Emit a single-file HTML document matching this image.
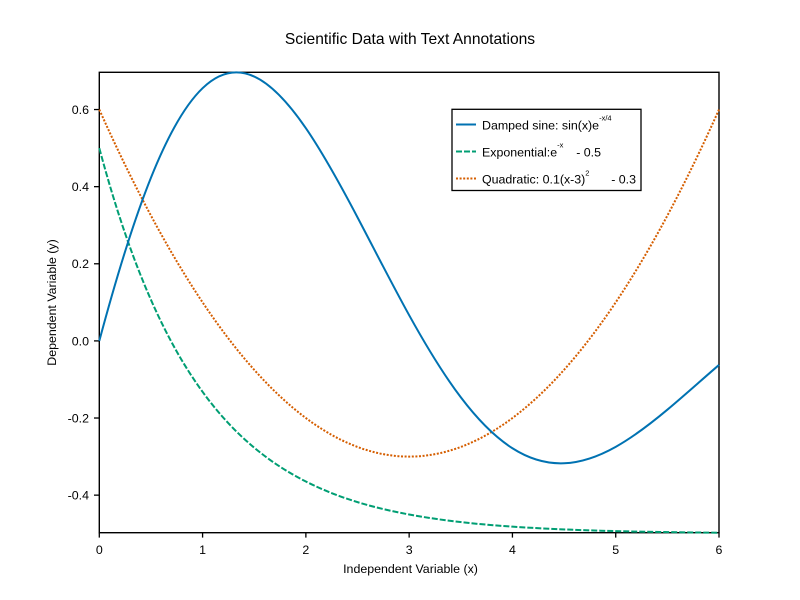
<!DOCTYPE html>
<html>
<head>
<meta charset="utf-8">
<style>
  html, body { margin: 0; padding: 0; background: #ffffff; }
  svg { display: block; }
  text { font-family: "Liberation Sans", Arial, sans-serif; fill: #000; white-space: pre; }
</style>
</head>
<body>
<svg width="800" height="600" viewBox="0 0 800 600" xmlns="http://www.w3.org/2000/svg">
  <rect x="0" y="0" width="800" height="600" fill="#ffffff"/>

  <!-- Title -->
  <text x="410" y="44" font-size="15.6" text-anchor="middle">Scientific Data with Text Annotations</text>

  <!-- Frame -->
  <rect x="99.3" y="72.3" width="619.7" height="460.4" fill="none" stroke="#000" stroke-width="1.4"/>

  <!-- Y ticks -->
  <g stroke="#000" stroke-width="1.3">
    <line x1="94" y1="109.54" x2="99.3" y2="109.54"/>
    <line x1="94" y1="186.66" x2="99.3" y2="186.66"/>
    <line x1="94" y1="263.78" x2="99.3" y2="263.78"/>
    <line x1="94" y1="340.9" x2="99.3" y2="340.9"/>
    <line x1="94" y1="418.02" x2="99.3" y2="418.02"/>
    <line x1="94" y1="495.14" x2="99.3" y2="495.14"/>
  </g>
  <g font-size="12.4" text-anchor="end">
    <text x="89" y="113.9">0.6</text>
    <text x="89" y="191.0">0.4</text>
    <text x="89" y="268.2">0.2</text>
    <text x="89" y="345.3">0.0</text>
    <text x="89" y="422.4">-0.2</text>
    <text x="89" y="499.5">-0.4</text>
  </g>

  <!-- X ticks -->
  <g stroke="#000" stroke-width="1.3">
    <line x1="99.3" y1="532.7" x2="99.3" y2="537.6"/>
    <line x1="202.58" y1="532.7" x2="202.58" y2="537.6"/>
    <line x1="305.87" y1="532.7" x2="305.87" y2="537.6"/>
    <line x1="409.15" y1="532.7" x2="409.15" y2="537.6"/>
    <line x1="512.43" y1="532.7" x2="512.43" y2="537.6"/>
    <line x1="615.72" y1="532.7" x2="615.72" y2="537.6"/>
    <line x1="719" y1="532.7" x2="719" y2="537.6"/>
  </g>
  <g font-size="12.4" text-anchor="middle">
    <text x="99.3" y="554">0</text>
    <text x="202.58" y="554">1</text>
    <text x="305.87" y="554">2</text>
    <text x="409.15" y="554">3</text>
    <text x="512.43" y="554">4</text>
    <text x="615.72" y="554">5</text>
    <text x="719" y="554">6</text>
  </g>

  <!-- Axis labels -->
  <text x="410.5" y="573" font-size="12.4" text-anchor="middle">Independent Variable (x)</text>
  <text transform="translate(56,302.5) rotate(-90)" x="0" y="0" font-size="12.4" text-anchor="middle">Dependent Variable (y)</text>

  <!-- Quadratic (orange dotted) -->
  <path d="M99.3,109.54 Q409.15,803.62 719,109.54" fill="none" stroke="#d55e00" stroke-width="2" stroke-dasharray="2,1.6"/>

  <!-- Exponential (green dashed) -->
  <path d="M99.3,148.1
           C116.51,212.37 133.73,260.84 150.94,299.82
           C168.15,338.80 185.37,368.21 202.58,391.85
           C219.79,415.49 237.01,433.32 254.22,447.66
           C271.43,462.00 288.66,472.81 305.87,481.51
           C340.30,498.91 374.72,508.10 409.15,514.50
           C443.58,520.90 478.00,524.29 512.43,526.64
           C546.86,528.99 581.29,530.23 615.72,531.10
           C650.15,531.97 684.57,532.42 719.0,532.74"
        fill="none" stroke="#009e73" stroke-width="2" stroke-dasharray="6,2"/>

  <!-- Damped sine (blue solid) -->
  <path d="M99.3,340.9
           C116.51,276.63 133.73,220.74 150.94,177.76
           C168.15,134.79 185.37,104.71 202.58,88.20
           C219.79,71.69 237.01,68.66 254.22,76.55
           C271.43,84.44 288.66,103.16 305.87,128.24
           C323.08,153.32 340.30,184.67 357.51,217.38
           C374.72,250.09 391.94,284.08 409.15,315.20
           C426.36,346.33 443.58,374.55 460.79,397.29
           C478.00,420.03 495.22,437.28 512.43,448.26
           C529.64,459.24 546.86,463.97 564.07,463.27
           C581.28,462.57 598.51,456.48 615.72,446.84
           C632.93,437.20 650.15,424.07 667.36,409.69
           C684.57,395.31 701.79,379.71 719.0,364.94"
        fill="none" stroke="#0072b2" stroke-width="2"/>

  <!-- Legend -->
  <rect x="452" y="109.3" width="189" height="81.2" fill="#ffffff" stroke="#000" stroke-width="1.3"/>
  <line x1="456" y1="124.5" x2="476" y2="124.5" stroke="#0072b2" stroke-width="2"/>
  <line x1="456" y1="151.5" x2="476" y2="151.5" stroke="#009e73" stroke-width="2" stroke-dasharray="6,2"/>
  <line x1="456" y1="178.5" x2="476" y2="178.5" stroke="#d55e00" stroke-width="2" stroke-dasharray="2,1.6"/>

  <text x="482" y="129.5" font-size="12.4">Damped sine: sin(x)e<tspan dy="-9" font-size="7.5">-x/4</tspan></text>
  <text x="482" y="156.5" font-size="12.4">Exponential:e<tspan dy="-9" font-size="7.5">-x</tspan></text>
  <text x="601" y="156.5" font-size="12.4" text-anchor="end">- 0.5</text>
  <text x="482" y="183.5" font-size="12.4">Quadratic: 0.1(x-3)<tspan dy="-8" font-size="7.5">2</tspan></text>
  <text x="636" y="183.5" font-size="12.4" text-anchor="end">- 0.3</text>
</svg>
</body>
</html>
